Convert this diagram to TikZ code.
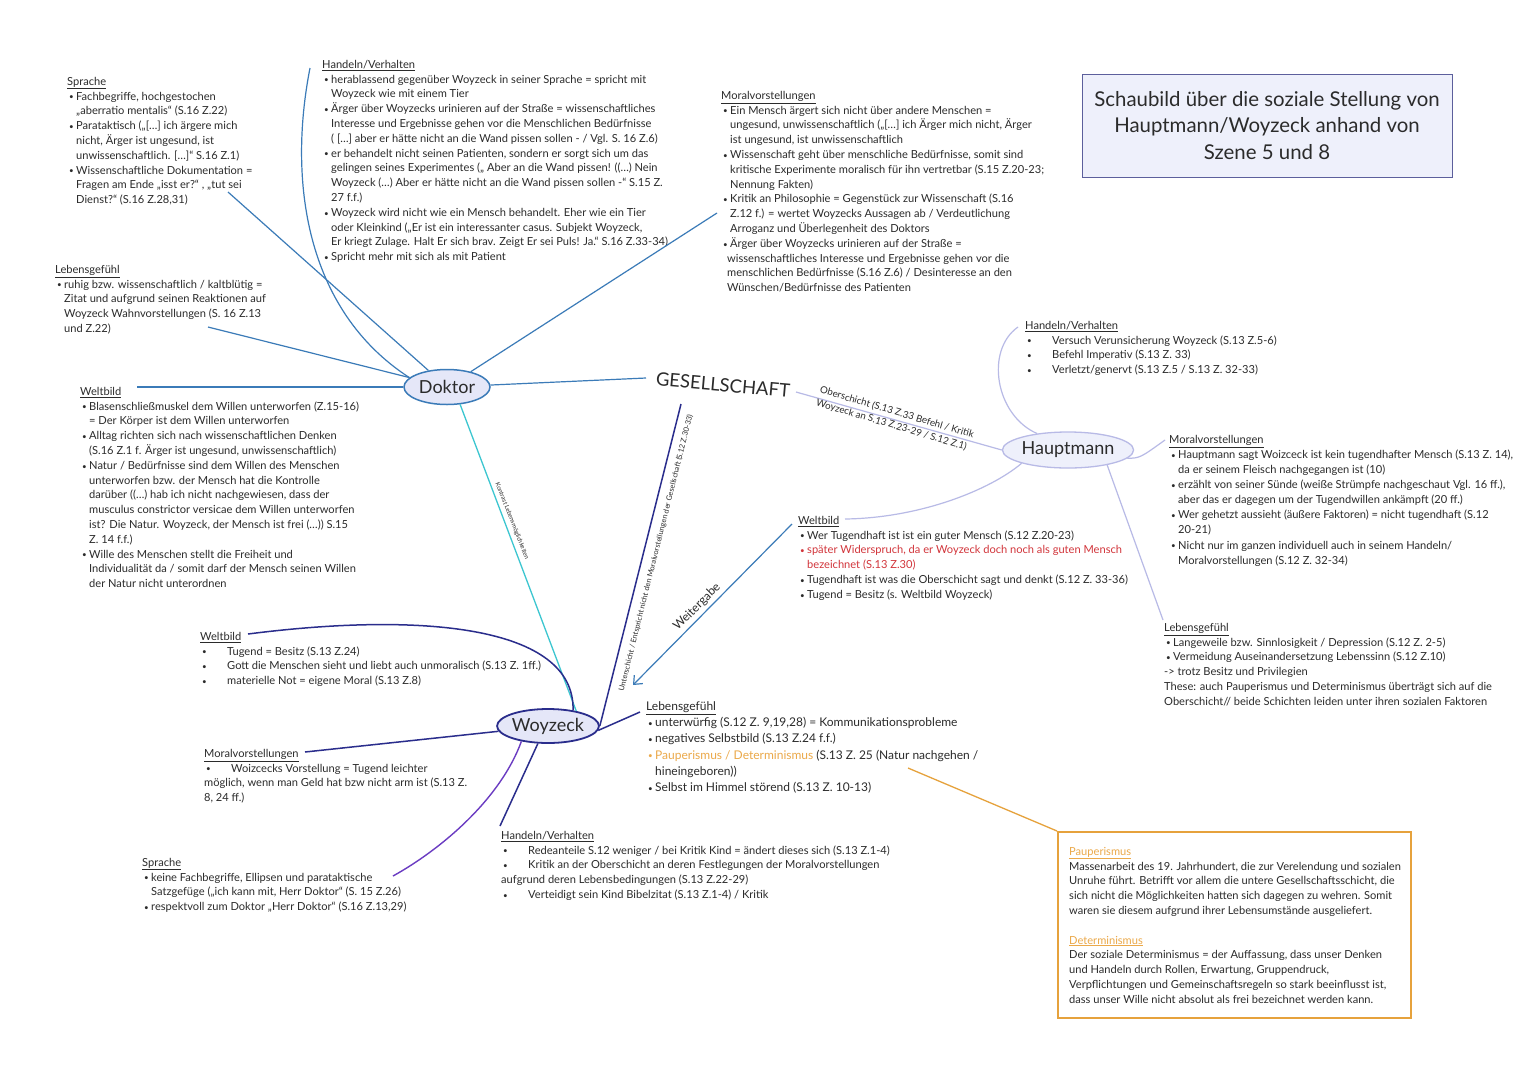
\documentclass[tikz,border=0pt]{standalone}
\usepackage{fontspec}
\setmainfont{Lato}
\usetikzlibrary{shapes.geometric,arrows.meta}
\definecolor{txtc}{HTML}{2B2B2B}
\definecolor{dokblue}{HTML}{3B7BB8}
\definecolor{cyanl}{HTML}{3CC6D0}
\definecolor{lav}{HTML}{B8BAE6}
\definecolor{navy}{HTML}{2A2D8C}
\definecolor{purp}{HTML}{6B3CC2}
\definecolor{orng}{HTML}{E6A23C}
\definecolor{orngt}{HTML}{EBA94A}
\definecolor{redt}{HTML}{D2353B}
\definecolor{titlefill}{HTML}{EEF0FB}
\definecolor{titledraw}{HTML}{5C5F9C}
\definecolor{ellfill}{HTML}{E5E7F8}
\newcommand\bul{\hspace*{2pt}\makebox[7pt][l]{\raisebox{0.3pt}{\fontsize{8}{8}\selectfont\textbullet}}}
\newcommand\tbul{\hspace*{2pt}\makebox[25pt][l]{\raisebox{0.3pt}{\fontsize{8}{8}\selectfont\textbullet}}}
\newcommand\myind{\hspace*{9pt}}
\newcommand\myhd[1]{\underline{#1}}
\tikzset{
  blk/.style={anchor=north west, inner sep=0pt, align=left, text=txtc, font=\fontsize{11.1}{14.8}\selectfont},
  ell/.style={ellipse, inner sep=0pt, font=\fontsize{18}{20}\selectfont, text=txtc, fill=ellfill},
  dl/.style={draw=dokblue, line width=1.2pt},
  cl/.style={draw=cyanl, line width=1.3pt},
  ll/.style={draw=lav, line width=1.2pt},
  nl/.style={draw=navy, line width=1.5pt},
  pl/.style={draw=purp, line width=1.4pt},
  ol/.style={draw=orng, line width=1.3pt},
  lbl/.style={text=txtc, inner sep=0pt},
}
\begin{document}
\begin{tikzpicture}[x=1pt,y=-1pt]
\useasboundingbox[fill=white] (0,0) rectangle (1527,1080);

% ---------- main nodes ----------
\node[ell, draw=dokblue, line width=1.5pt, minimum width=86pt, minimum height=35pt] (dok) at (447,387) {Doktor};
\node[ell, draw=lav, line width=1.3pt, fill=titlefill, minimum width=112pt, minimum height=36pt] (hpt) at (1068,450) {Hauptmann};
\node[ell, draw=navy, line width=1.8pt, minimum width=98pt, minimum height=34pt] (woy) at (548,726) {Woyzeck};
\node[lbl, font=\fontsize{18.5}{20}\selectfont, rotate=-5] (ges) at (723,385) {GESELLSCHAFT};

\node[draw=titledraw, fill=titlefill, line width=0.8pt, minimum width=370pt, minimum height=103pt, align=center, text=txtc, font=\fontsize{20.4}{26.5}\selectfont] (title) at (1267,125.5) {Schaubild über die soziale Stellung von\\Hauptmann/Woyzeck anhand von\\Szene 5 und 8};

% ---------- Doktor blocks ----------
\node[blk] (dS) at (67,77) {\myhd{Sprache}\\
\bul Fachbegriffe, hochgestochen\\
\myind „aberratio mentalis“ (S.16 Z.22)\\
\bul Parataktisch („[…] ich ärgere mich\\
\myind nicht, Ärger ist ungesund, ist\\
\myind unwissenschaftlich. […]“ S.16 Z.1)\\
\bul Wissenschaftliche Dokumentation =\\
\myind Fragen am Ende „isst er?“ , „tut sei\\
\myind Dienst?“ (S.16 Z.28,31)};

\node[blk] (dL) at (55,265) {\myhd{Lebensgefühl}\\
\bul ruhig bzw. wissenschaftlich / kaltblütig =\\
\myind Zitat und aufgrund seinen Reaktionen auf\\
\myind Woyzeck Wahnvorstellungen (S. 16 Z.13\\
\myind und Z.22)};

\node[blk] (dH) at (322,60) {\myhd{Handeln/Verhalten}\\
\bul herablassend gegenüber Woyzeck in seiner Sprache = spricht mit\\
\myind Woyzeck wie mit einem Tier\\
\bul Ärger über Woyzecks urinieren auf der Straße = wissenschaftliches\\
\myind Interesse und Ergebnisse gehen vor die Menschlichen Bedürfnisse\\
\myind ( […] aber er hätte nicht an die Wand pissen sollen - / Vgl. S. 16 Z.6)\\
\bul er behandelt nicht seinen Patienten, sondern er sorgt sich um das\\
\myind gelingen seines Experimentes („ Aber an die Wand pissen! ((…) Nein\\
\myind Woyzeck (…) Aber er hätte nicht an die Wand pissen sollen -“ S.15 Z.\\
\myind 27 f.f.)\\
\bul Woyzeck wird nicht wie ein Mensch behandelt. Eher wie ein Tier\\
\myind oder Kleinkind („Er ist ein interessanter casus. Subjekt Woyzeck,\\
\myind Er kriegt Zulage. Halt Er sich brav. Zeigt Er sei Puls! Ja.“ S.16 Z.33-34)\\
\bul Spricht mehr mit sich als mit Patient};

\node[blk] (dM) at (721,91) {\myhd{Moralvorstellungen}\\
\bul Ein Mensch ärgert sich nicht über andere Menschen =\\
\myind ungesund, unwissenschaftlich („[…] ich Ärger mich nicht, Ärger\\
\myind ist ungesund, ist unwissenschaftlich\\
\bul Wissenschaft geht über menschliche Bedürfnisse, somit sind\\
\myind kritische Experimente moralisch für ihn vertretbar (S.15 Z.20-23;\\
\myind Nennung Fakten)\\
\bul Kritik an Philosophie = Gegenstück zur Wissenschaft (S.16\\
\myind Z.12 f.) = wertet Woyzecks Aussagen ab / Verdeutlichung\\
\myind Arroganz und Überlegenheit des Doktors\\
\bul Ärger über Woyzecks urinieren auf der Straße =\\
\hspace*{6pt}wissenschaftliches Interesse und Ergebnisse gehen vor die\\
\hspace*{6pt}menschlichen Bedürfnisse (S.16 Z.6) / Desinteresse an den\\
\hspace*{6pt}Wünschen/Bedürfnisse des Patienten};

\node[blk] (dW) at (80,387) {\myhd{Weltbild}\\
\bul Blasenschließmuskel dem Willen unterworfen (Z.15-16)\\
\myind = Der Körper ist dem Willen unterworfen\\
\bul Alltag richten sich nach wissenschaftlichen Denken\\
\myind (S.16 Z.1 f. Ärger ist ungesund, unwissenschaftlich)\\
\bul Natur / Bedürfnisse sind dem Willen des Menschen\\
\myind unterworfen bzw. der Mensch hat die Kontrolle\\
\myind darüber ((…) hab ich nicht nachgewiesen, dass der\\
\myind musculus constrictor versicae dem Willen unterworfen\\
\myind ist? Die Natur. Woyzeck, der Mensch ist frei (…)) S.15\\
\myind Z. 14 f.f.)\\
\bul Wille des Menschen stellt die Freiheit und\\
\myind Individualität da / somit darf der Mensch seinen Willen\\
\myind der Natur nicht unterordnen};

% ---------- Hauptmann blocks ----------
\node[blk] (hH) at (1025,321) {\myhd{Handeln/Verhalten}\\
\tbul Versuch Verunsicherung Woyzeck (S.13 Z.5-6)\\
\tbul Befehl Imperativ (S.13 Z. 33)\\
\tbul Verletzt/genervt (S.13 Z.5 / S.13 Z. 32-33)};

\node[blk, font=\fontsize{11.1}{15.1}\selectfont] (hM) at (1169,435) {\myhd{Moralvorstellungen}\\
\bul Hauptmann sagt Woizceck ist kein tugendhafter Mensch (S.13 Z. 14),\\
\myind da er seinem Fleisch nachgegangen ist (10)\\
\bul erzählt von seiner Sünde (weiße Strümpfe nachgeschaut Vgl. 16 ff.),\\
\myind aber das er dagegen um der Tugendwillen ankämpft (20 ff.)\\
\bul Wer gehetzt aussieht (äußere Faktoren) = nicht tugendhaft (S.12\\
\myind 20-21)\\
\bul Nicht nur im ganzen individuell auch in seinem Handeln/\\
\myind Moralvorstellungen (S.12 Z. 32-34)};

\node[blk] (hW) at (798,516) {\myhd{Weltbild}\\
\bul Wer Tugendhaft ist ist ein guter Mensch (S.12 Z.20-23)\\
{\color{redt}\bul später Widerspruch, da er Woyzeck doch noch als guten Mensch}\\
{\color{redt}\myind bezeichnet (S.13 Z.30)}\\
\bul Tugendhaft ist was die Oberschicht sagt und denkt (S.12 Z. 33-36)\\
\bul Tugend = Besitz (s. Weltbild Woyzeck)};

\node[blk] (hL) at (1164,623) {\myhd{Lebensgefühl}\\
\bul Langeweile bzw. Sinnlosigkeit / Depression (S.12 Z. 2-5)\\
\bul Vermeidung Auseinandersetzung Lebenssinn (S.12 Z.10)\\
-> trotz Besitz und Privilegien\\
These: auch Pauperismus und Determinismus überträgt sich auf die\\
Oberschicht// beide Schichten leiden unter ihren sozialen Faktoren};

% ---------- Woyzeck blocks ----------
\node[blk] (wW) at (200,632) {\myhd{Weltbild}\\
\tbul Tugend = Besitz (S.13 Z.24)\\
\tbul Gott die Menschen sieht und liebt auch unmoralisch (S.13 Z. 1ff.)\\
\tbul materielle Not = eigene Moral (S.13 Z.8)};

\node[blk] (wM) at (204,749) {\myhd{Moralvorstellungen}\\
\tbul Woizcecks Vorstellung = Tugend leichter\\
möglich, wenn man Geld hat bzw nicht arm ist (S.13 Z.\\
8, 24 ff.)};

\node[blk, font=\fontsize{12}{16.2}\selectfont] (wL) at (646,701.5) {\myhd{Lebensgefühl}\\
\bul unterwürfig (S.12 Z. 9,19,28) = Kommunikationsprobleme\\
\bul negatives Selbstbild (S.13 Z.24 f.f.)\\
{\color{orngt}\bul Pauperismus / Determinismus} (S.13 Z. 25 (Natur nachgehen /\\
\myind hineingeboren))\\
\bul Selbst im Himmel störend (S.13 Z. 10-13)};

\node[blk] (wH) at (501,831) {\myhd{Handeln/Verhalten}\\
\tbul Redeanteile S.12 weniger / bei Kritik Kind = ändert dieses sich (S.13 Z.1-4)\\
\tbul Kritik an der Oberschicht an deren Festlegungen der Moralvorstellungen\\
aufgrund deren Lebensbedingungen (S.13 Z.22-29)\\
\tbul Verteidigt sein Kind Bibelzitat (S.13 Z.1-4) / Kritik};

\node[blk] (wS) at (142,858) {\myhd{Sprache}\\
\bul keine Fachbegriffe, Ellipsen und parataktische\\
\myind Satzgefüge („ich kann mit, Herr Doktor“ (S. 15 Z.26)\\
\bul respektvoll zum Doktor „Herr Doktor“ (S.16 Z.13,29)};

% ---------- definitions box ----------
\node[draw=orng, line width=2pt, fill=white, minimum width=353pt, minimum height=186pt] (defbox) at (1234.5,925) {};
\node[blk] (deftxt) at (1069,847) {{\color{orngt}\myhd{Pauperismus}}\\
Massenarbeit des 19. Jahrhundert, die zur Verelendung und sozialen\\
Unruhe führt. Betrifft vor allem die untere Gesellschaftsschicht, die\\
sich nicht die Möglichkeiten hatten sich dagegen zu wehren. Somit\\
waren sie diesem aufgrund ihrer Lebensumstände ausgeliefert.\\[14.8pt]
{\color{orngt}\myhd{Determinismus}}\\
Der soziale Determinismus = der Auffassung, dass unser Denken\\
und Handeln durch Rollen, Erwartung, Gruppendruck,\\
Verpflichtungen und Gemeinschaftsregeln so stark beeinflusst ist,\\
dass unser Wille nicht absolut als frei bezeichnet werden kann.};

% ---------- connector end points ----------
\coordinate (cdS) at (228,192);
\coordinate (cdH) at (310,68);
\coordinate (cdL) at (208,327);
\coordinate (cdW) at (137,387);
\coordinate (cdM) at (717,213);
\coordinate (cgD) at (646,378);
\coordinate (cgH) at (796,392);
\coordinate (cgU) at (681,404);
\coordinate (chH) at (1018,327);
\coordinate (chM) at (1165,440);
\coordinate (chL) at (1163,620);
\coordinate (chW) at (845,519);
\coordinate (cwa) at (792,524);
\coordinate (cwb) at (633,685);
\coordinate (cwW) at (248,634);
\coordinate (cwM) at (305,752);
\coordinate (cwL) at (640,712);
\coordinate (cwH) at (500,826);
\coordinate (cwS) at (393,876);
\coordinate (cpO) at (908,768);

% ---------- connectors ----------
\draw[dl] (dok) -- (cdS);
\draw[dl] (dok.166) .. controls (305,310) and (288,180) .. (cdH);
\draw[dl] (dok) -- (cdL);
\draw[dl] (dok) -- (cdW);
\draw[dl] (dok) -- (cdM);
\draw[dl] (dok) -- (cgD);
\draw[cl] (dok.-53) -- (woy.28);
\draw[ll] (cgH) -- (hpt.west);
\draw[nl] (cgU) -- (woy.east);
\draw[ll] (hpt.152) .. controls (995,415) and (985,350) .. (chH);
\draw[ll] (hpt.-8) .. controls (1140,458) .. (chM);
\draw[ll] (hpt.-21) -- (chL);
\draw[ll] (hpt.196) .. controls (990,490) and (920,518) .. (chW);
\draw[dl, -{Straight Barb[length=7pt,width=12pt]}] (cwa) -- (cwb);
\draw[nl] (woy.32) .. controls (575,625) and (420,612) .. (cwW);
\draw[nl] (woy) -- (cwM);
\draw[nl] (woy.-5) -- (cwL);
\draw[nl] (woy.-120) -- (cwH);
\draw[pl] (woy.-150) .. controls (500,800) and (440,850) .. (cwS);
\draw[ol] (cpO) -- (defbox.north west);

% ---------- connector labels ----------
\node[lbl, font=\fontsize{6.2}{7}\selectfont, rotate=-68.6] (lk) at (512,521) {Kontrast Lebensmöglichkeiten};
\node[lbl, font=\fontsize{7.5}{8}\selectfont, rotate=76] (lu) at (656,553) {Unterschicht / Entspricht nicht den Moralvorstellungen der Gesellschaft (S.12 Z.30-33)};
\node[lbl, font=\fontsize{9.7}{13.5}\selectfont, rotate=-16.5, align=left] (lo) at (895,419) {Oberschicht (S.13 Z.33 Befehl / Kritik\\Woyzeck an S.13 Z.23-29 / S.12 Z.1)};
\node[lbl, font=\fontsize{12}{13}\selectfont, rotate=45] (lw) at (697,607) {Weitergabe};
\end{tikzpicture}
\end{document}
